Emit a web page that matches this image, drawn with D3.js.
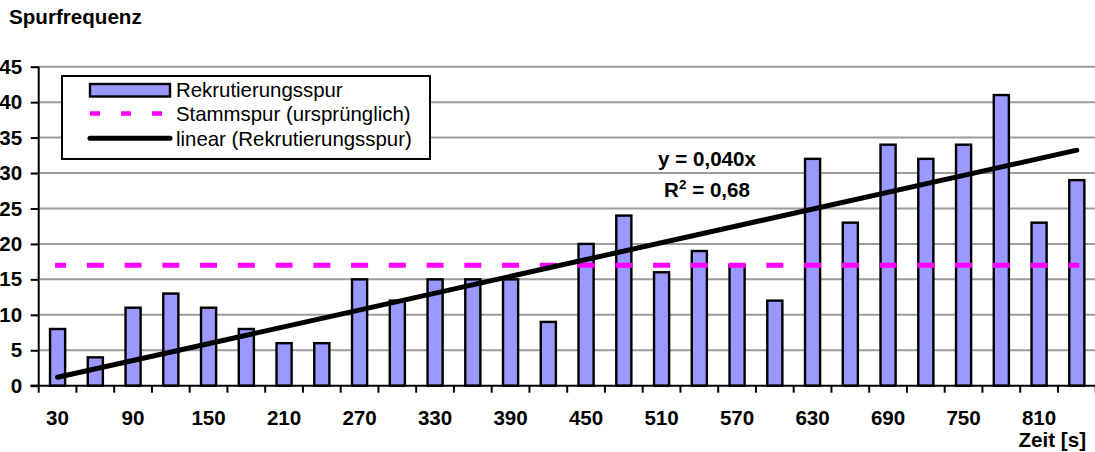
<!DOCTYPE html>
<html>
<head>
<meta charset="utf-8">
<script src="https://cdn.jsdelivr.net/npm/d3@7"></script>
<style>
  html, body { margin: 0; padding: 0; background: #fff; }
  svg { display: block; font-family: "Liberation Sans", Arial, sans-serif; }
</style>
</head>
<body>
<svg id="chart" width="1095" height="452"></svg>
<script>
// ---- data ----
const times = [30,60,90,120,150,180,210,240,270,300,330,360,390,420,450,480,510,540,570,600,630,660,690,720,750,780,810,840];
const rekrutierung = [8,4,11,13,11,8,6,6,15,12,15,15,15,9,20,24,16,19,17,12,32,23,34,32,34,41,23,29];
const stammspur = times.map(() => 17);
const yTicks = [0,5,10,15,20,25,30,35,40,45];
const xLabelTimes = [30,90,150,210,270,330,390,450,510,570,630,690,750,810];
const legendLabels = ["Rekrutierungsspur", "Stammspur (ursprünglich)", "linear (Rekrutierungsspur)"];
const titleText = "Spurfrequenz";
const xTitleText = "Zeit [s]";

(function () {
// regression through origin
const slope = d3.sum(times, (t, i) => t * rekrutierung[i]) / d3.sum(times, t => t * t);
const meanY = d3.mean(rekrutierung);
const ssRes = d3.sum(times, (t, i) => (rekrutierung[i] - slope * t) ** 2);
const ssTot = d3.sum(rekrutierung, v => (v - meanY) ** 2);
const fmt = (v, d) => v.toFixed(d).replace(".", ",");

const svg = d3.select("#chart");
const pL = 38.7, pR = 1095.7, pT = 66.7, pB = 385.7;
const FB = 20.6, FL = 20.4;

const x = d3.scaleBand().domain(times).range([pL, pR]).paddingInner(0).paddingOuter(0);
const bw = x.bandwidth();
const cx = t => x(t) + bw / 2;
const y = d3.scaleLinear().domain([0, 45]).range([pB, pT]);

// gridlines
svg.append("g").selectAll("line").data(yTicks.filter(d => d > 0)).join("line")
  .attr("x1", pL).attr("x2", 1095)
  .attr("y1", d => y(d)).attr("y2", d => y(d))
  .attr("stroke", "#9c9c9c").attr("stroke-width", 2);

// bars
const barW = bw * 0.40;
svg.append("g").selectAll("rect").data(times).join("rect")
  .attr("x", t => cx(t) - barW / 2)
  .attr("width", barW)
  .attr("y", (t, i) => y(rekrutierung[i]))
  .attr("height", (t, i) => y(0) - y(rekrutierung[i]))
  .attr("fill", "#9999ff").attr("stroke", "#000").attr("stroke-width", 2.4);

// axes
const yAxis = d3.axisLeft(y).tickValues(yTicks).tickSize(8).tickPadding(9);
const gy = svg.append("g").attr("transform", `translate(${pL},0)`).call(yAxis);
gy.select(".domain").attr("stroke", "#000").attr("stroke-width", 2).attr("d", `M-8,${y(0)}H0V${pT}`);
gy.selectAll(".tick line").attr("stroke", "#000").attr("stroke-width", 2);
gy.selectAll(".tick text").attr("font-size", FB).attr("font-weight", "bold").attr("fill", "#000")
  .attr("font-family", "Liberation Sans, Arial, sans-serif").attr("x", -16.5);

// x axis line
svg.append("line").attr("x1", pL - 8).attr("x2", 1095).attr("y1", y(0)).attr("y2", y(0))
  .attr("stroke", "#000").attr("stroke-width", 2);
// boundary ticks
const boundaries = times.map(t => x(t)).concat([pR]);
svg.append("g").selectAll("line").data(boundaries).join("line")
  .attr("x1", d => d).attr("x2", d => d).attr("y1", y(0)).attr("y2", y(0) + 7)
  .attr("stroke", "#000").attr("stroke-width", 2);
// x labels
const xAxis = d3.axisBottom(x).tickValues(xLabelTimes).tickSize(0).tickPadding(0);
const gx = svg.append("g").attr("transform", `translate(0,${y(0)})`).call(xAxis);
gx.select(".domain").remove();
gx.selectAll(".tick text").attr("font-size", FB).attr("font-weight", "bold").attr("fill", "#000")
  .attr("font-family", "Liberation Sans, Arial, sans-serif").attr("dy", null).attr("y", 39.5);

// Stammspur dashed line
const line = d3.line().x((d, i) => cx(times[i])).y(d => y(d));
svg.append("path").datum(stammspur).attr("d", line)
  .attr("fill", "none").attr("stroke", "#ff00ff").attr("stroke-width", 5)
  .attr("stroke-linecap", "square")
  .attr("stroke-dasharray", `12 ${bw - 12}`).attr("stroke-dashoffset", 6);

// trendline
const trend = [times[0], times[times.length - 1]];
svg.append("path").datum(trend)
  .attr("d", d3.line().x(t => cx(t)).y(t => y(slope * t)))
  .attr("fill", "none").attr("stroke", "#000").attr("stroke-width", 5).attr("stroke-linecap", "round");

// equation
svg.append("text").attr("x", 707).attr("y", 166).attr("text-anchor", "middle")
  .attr("font-size", FB).attr("font-weight", "bold").text(`y = ${fmt(slope, 3)}x`);
const r2 = svg.append("text").attr("x", 707).attr("y", 197).attr("text-anchor", "middle")
  .attr("font-size", FB).attr("font-weight", "bold");
r2.append("tspan").text("R");
r2.append("tspan").attr("font-size", 13.5).attr("dy", -8).text("2");
r2.append("tspan").attr("dy", 8).text(` = ${fmt(1 - ssRes / ssTot, 2)}`);

// title
svg.append("text").attr("x", 9).attr("y", 24).attr("font-size", FB).attr("font-weight", "bold").text(titleText);
svg.append("text").attr("x", 1086).attr("y", 446.5).attr("text-anchor", "end")
  .attr("font-size", FB).attr("font-weight", "bold").text(xTitleText);

// legend
const lg = svg.append("g");
lg.append("rect").attr("x", 62).attr("y", 76).attr("width", 368).attr("height", 83)
  .attr("fill", "#fff").attr("stroke", "#000").attr("stroke-width", 2);
const rowY = [90, 113.5, 138.3];
lg.append("rect").attr("x", 90).attr("y", 84).attr("width", 80).attr("height", 12.5)
  .attr("fill", "#9999ff").attr("stroke", "#000").attr("stroke-width", 2.4);
lg.append("line").attr("x1", 90).attr("x2", 170).attr("y1", rowY[1]).attr("y2", rowY[1])
  .attr("stroke", "#ff00ff").attr("stroke-width", 4.5).attr("stroke-dasharray", "10 21");
lg.append("line").attr("x1", 90).attr("x2", 170).attr("y1", rowY[2]).attr("y2", rowY[2])
  .attr("stroke", "#000").attr("stroke-width", 5).attr("stroke-linecap", "round");
lg.selectAll("text.lbl").data(legendLabels).join("text").attr("class", "lbl")
  .attr("x", 176).attr("y", (d, i) => rowY[i] + 7.3)
  .attr("font-size", FL).text(d => d);
})();
</script>
</body>
</html>
